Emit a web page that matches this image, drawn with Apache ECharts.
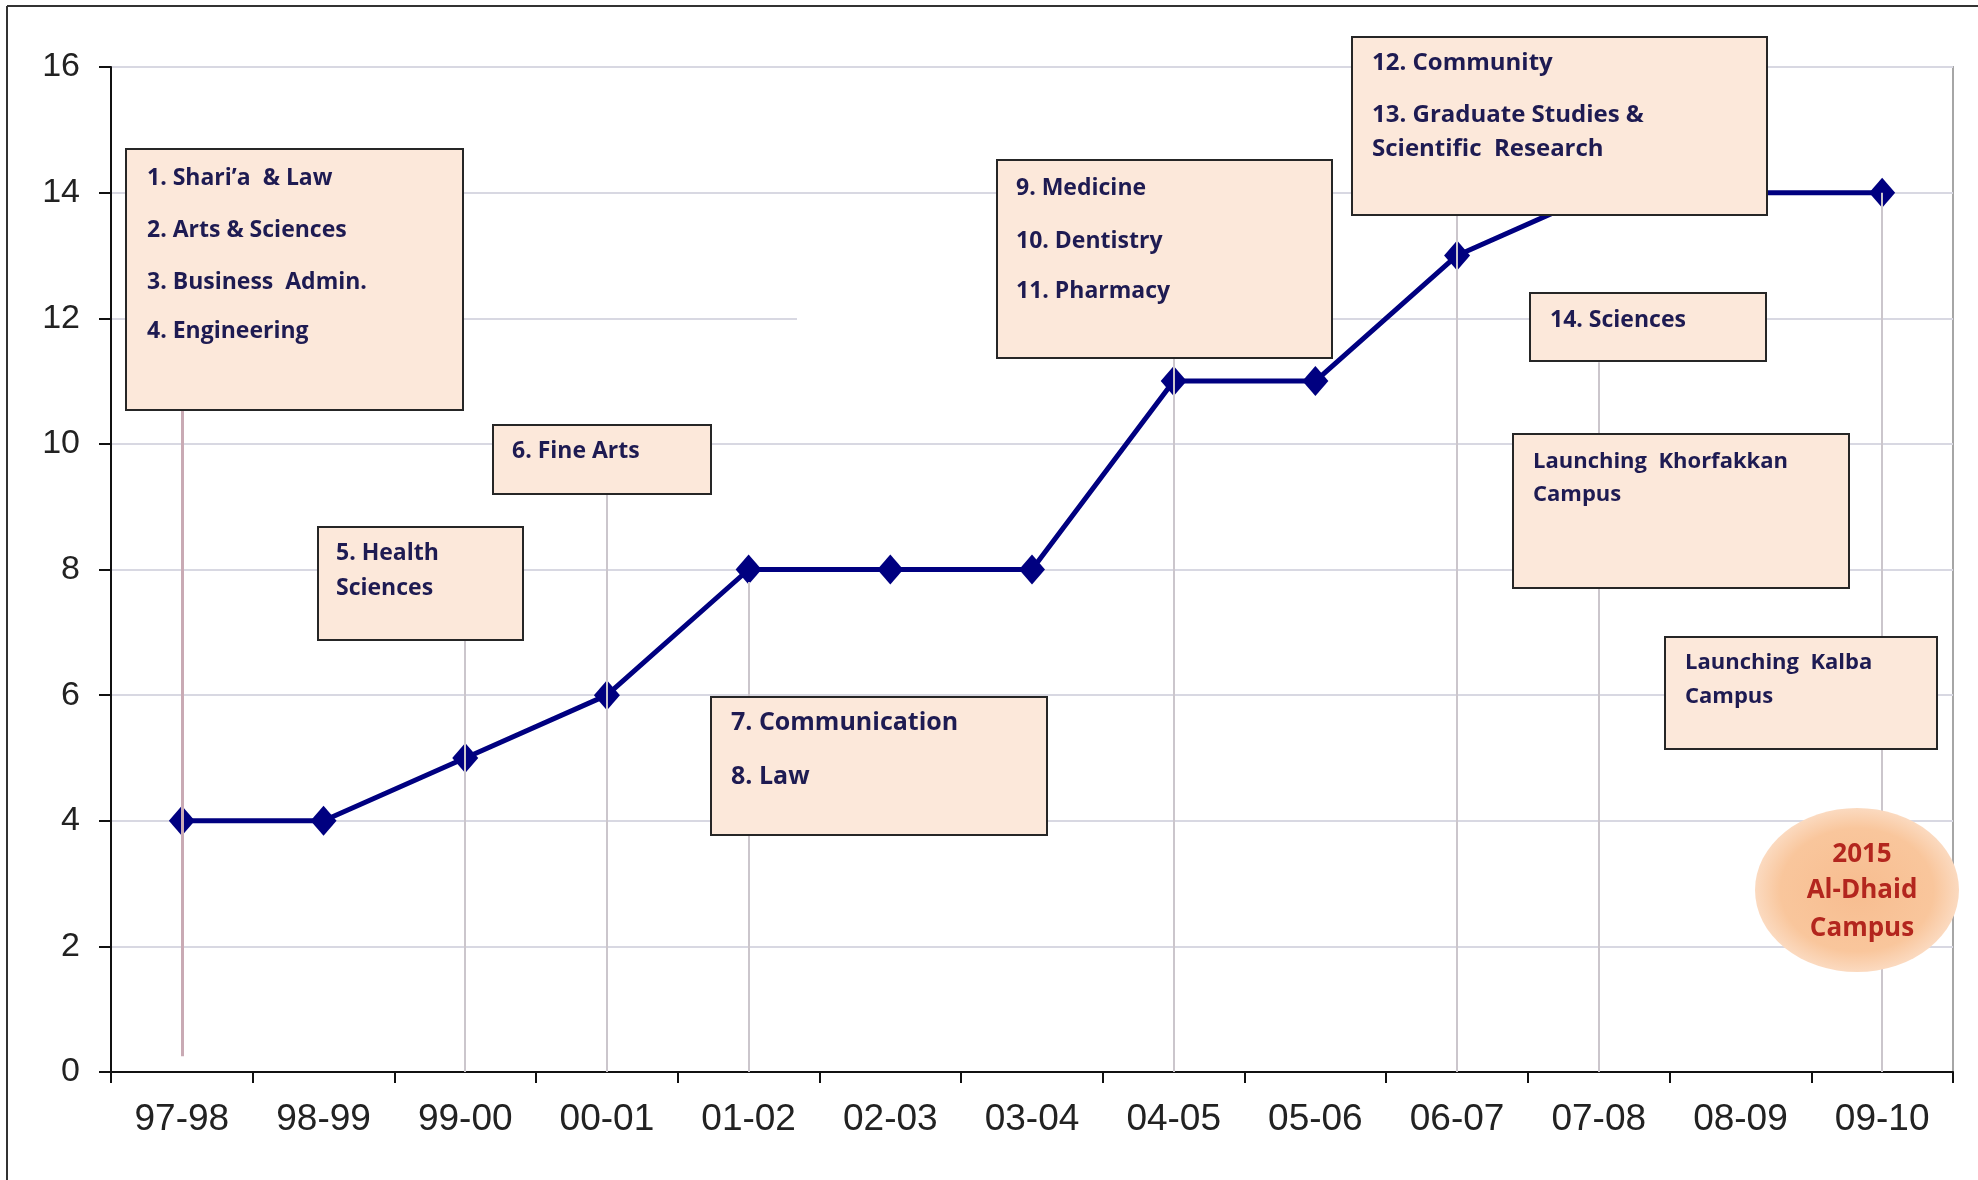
<!DOCTYPE html>
<html>
<head>
<meta charset="utf-8">
<script src="https://cdn.jsdelivr.net/npm/echarts@6/dist/echarts.min.js"></script>
<style>
html,body{margin:0;padding:0;background:#fff;}
#chart{width:1978px;height:1180px;}
</style>
</head>
<body>
<div id="chart"></div>
<script>
// ---- data ----
const categories = ['97-98','98-99','99-00','00-01','01-02','02-03','03-04','04-05','05-06','06-07','07-08','08-09','09-10'];
const colleges = [4, 4, 5, 6, 8, 8, 8, 11, 11, 13, 14, 14, 14];
const yTicks = [0, 2, 4, 6, 8, 10, 12, 14, 16];

// leader lines (callouts) : category, top value, bottom value
const leaderCats = ['97-98','99-00','00-01','01-02','04-05','06-07','07-08','09-10'];
const leaderTop = [10.6, 6.9, 9.2, 7.8, 11.4, 13.7, 11.3, 14];
const leaderBottom = [0.25, 0, 0, 0, 0, 0, 0, 0];

// annotation texts
const note1 = ['1. Shari\u2019a  & Law', '2. Arts & Sciences', '3. Business  Admin.', '4. Engineering'];
const note2 = ['5. Health', 'Sciences'];
const note3 = ['6. Fine Arts'];
const note4 = ['7. Communication', '8. Law'];
const note5 = ['9. Medicine', '10. Dentistry', '11. Pharmacy'];
const note6 = ['12. Community', '13. Graduate Studies &', 'Scientific  Research'];
const note7 = ['14. Sciences'];
const note8 = ['Launching  Khorfakkan', 'Campus'];
const note9 = ['Launching  Kalba', 'Campus'];
const note10 = ['2015', 'Al-Dhaid', 'Campus'];

// ---- layout of annotation boxes (pixels) ----
const boxes = [
  {lines: note1, x:126, y:149, w:337, h:261, tx:147, ty:[178,230,282,331], fs:23},
  {lines: note2, x:318, y:527, w:205, h:113, tx:336, ty:[553,588], fs:23},
  {lines: note3, x:493, y:425, w:218, h:69,  tx:512, ty:[451], fs:23},
  {lines: note4, x:711, y:697, w:336, h:138, tx:731, ty:[723,777], fs:25},
  {lines: note5, x:997, y:160, w:335, h:198, tx:1016, ty:[188,241,291], fs:23},
  {lines: note6, x:1352, y:37, w:415, h:178, tx:1372, ty:[63,115,149], fs:24},
  {lines: note7, x:1530, y:293, w:236, h:68, tx:1550, ty:[320], fs:23},
  {lines: note8, x:1513, y:434, w:336, h:154, tx:1533, ty:[462,495], fs:22},
  {lines: note9, x:1665, y:637, w:272, h:112, tx:1685, ty:[663,697], fs:22}
];

const BOX_FILL = '#fce8da';
const TEXT_COLOR = '#1e1b52';
const FONT = '"Open Sans", Lato, sans-serif';
const graphics = [];
// outer frame (left & top edges)
graphics.push({type:'line', z:200, shape:{x1:7,y1:6,x2:1978,y2:6}, style:{stroke:'#333', lineWidth:2}});
graphics.push({type:'line', z:200, shape:{x1:7,y1:6,x2:7,y2:1180}, style:{stroke:'#333', lineWidth:2}});
// blank area hiding part of the 12 gridline
graphics.push({type:'rect', z:1, shape:{x:797, y:308, width:199, height:20}, style:{fill:'#fff'}});

boxes.forEach(b => {
  graphics.push({type:'rect', z:100, shape:{x:b.x, y:b.y, width:b.w, height:b.h},
    style:{fill:BOX_FILL, stroke:'#262626', lineWidth:2}});
  b.lines.forEach((t, i) => {
    graphics.push({type:'text', z:101, x:b.tx, y:b.ty[i],
      style:{text:t, fill:TEXT_COLOR, fontSize:b.fs, fontWeight:'bold', fontFamily:FONT, verticalAlign:'middle', align:'left'}});
  });
});
// Al-Dhaid ellipse
graphics.push({type:'circle', z:100, x:1857, y:890, scaleX:102/82, shape:{cx:0, cy:0, r:82},
  style:{fill:{type:'radial', x:0.5, y:0.5, r:0.5, colorStops:[{offset:0,color:'#f7bd90'},{offset:0.75,color:'#f9c69c'},{offset:1,color:'#fbdac0'}]}}});
const circleTy = [855, 891, 929];
note10.forEach((t, i) => {
  graphics.push({type:'text', z:101, x:1862, y:circleTy[i],
    style:{text:t, fill:'#b3261e', fontSize:26, fontWeight:'bold', fontFamily:FONT, verticalAlign:'middle', align:'center'}});
});

const leaderData = leaderCats.map((c, i) => [
  {coord:[c, leaderTop[i]], lineStyle:{color: i === 0 ? '#c9aab4' : '#cbc6cc', width: i === 0 ? 3 : 2, type:'solid'}},
  {coord:[c, leaderBottom[i]]}
]);

const chart = echarts.init(document.getElementById('chart'), null, {renderer:'canvas'});
chart.setOption({
  animation:false,
  backgroundColor:'#ffffff',
  grid:{left:111, right:25, top:67, bottom:108, show:true, borderColor:'#a6a6a6', borderWidth:2, backgroundColor:'transparent'},
  xAxis:{
    type:'category', data:categories, boundaryGap:true,
    axisLine:{show:true, lineStyle:{color:'#111', width:2}},
    axisTick:{show:true, alignWithLabel:false, length:11, lineStyle:{color:'#111', width:2}},
    axisLabel:{color:'#222', fontSize:37, fontFamily:'"Liberation Sans", Arial, sans-serif', margin:29, interval:0},
    splitLine:{show:false}
  },
  yAxis:{
    type:'value', min:yTicks[0], max:yTicks[yTicks.length-1], interval:yTicks[1]-yTicks[0],
    axisLine:{show:true, lineStyle:{color:'#111', width:2}},
    axisTick:{show:true, length:12, lineStyle:{color:'#111', width:2}},
    axisLabel:{color:'#222', fontSize:34, fontFamily:'"Liberation Sans", Arial, sans-serif', margin:31},
    splitLine:{show:true, lineStyle:{color:'#d8d8e2', width:2}}
  },
  series:[{
    type:'line', data:colleges, z:3,
    symbol:'diamond', symbolSize:[26,30],
    itemStyle:{color:'#000080'},
    lineStyle:{color:'#000080', width:5},
    markLine:{silent:true, symbol:['none','none'], label:{show:false}, animation:false, data:leaderData}
  }],
  graphic:graphics
});
</script>
</body>
</html>
